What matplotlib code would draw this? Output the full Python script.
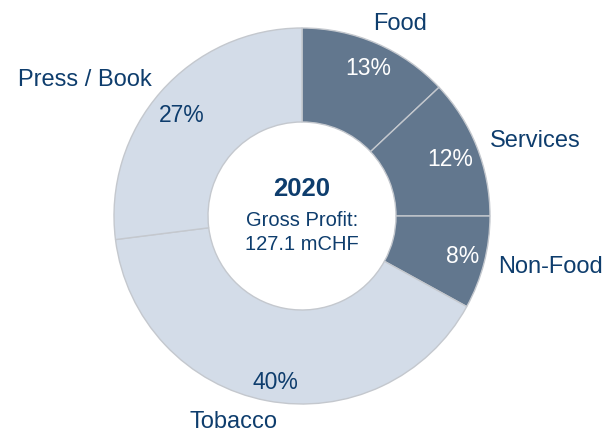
import matplotlib
matplotlib.use("Agg")
import matplotlib.pyplot as plt

# data
categories = ["Food", "Services", "Non-Food", "Tobacco", "Press / Book"]
shares = [13, 12, 8, 40, 27]
year = "2020"
subtitle = ["Gross Profit:", "127.1 mCHF"]

DARK = "#62778E"
LIGHT = "#D3DCE8"
NAVY = "#0E3D6D"
EDGE = "#C4C8CE"

colors = [DARK, DARK, DARK, LIGHT, LIGHT]
pct_colors = ["white", "white", "white", NAVY, NAVY]

# label placement (x, baseline y, ha) in figure pixels, y up
label_pos = [(373, 402, "left"), (490, 285, "left"), (498, 159, "left"),
             (190, 4, "left"), (152, 346, "right")]
pct_pos = [(368, 357), (450, 266), (463, 169), (275.5, 43), (181.5, 310)]

plt.rcParams["font.family"] = ["Liberation Sans", "DejaVu Sans"]

fig = plt.figure(figsize=(6.08, 4.32), dpi=100)
ax = fig.add_axes([0, 0, 1, 1])

cx, cy, r = 302, 216, 188
wedges, texts, autotexts = ax.pie(
    shares, labels=categories, colors=colors, startangle=90, counterclock=False,
    center=(cx, cy), radius=r, autopct="%d%%", frame=True,
    wedgeprops=dict(width=r * 0.5, edgecolor=EDGE, linewidth=1),
    textprops=dict(fontsize=17, color=NAVY),
)
for t, (x, y, ha) in zip(texts, label_pos):
    t.set_position((x, y))
    t.set_ha(ha)
    t.set_va("baseline")
for t, (x, y), c in zip(autotexts, pct_pos, pct_colors):
    t.set_position((x, y))
    t.set_ha("center")
    t.set_va("baseline")
    t.set_color(c)
    t.set_fontsize(16.5)

ax.set_xlim(0, 608)
ax.set_ylim(0, 432)
ax.set_aspect("equal")
ax.axis("off")

ax.text(cx, 236, year, ha="center", va="baseline", fontsize=18.5,
        fontweight="bold", color=NAVY)
ax.text(cx, 206, subtitle[0], ha="center", va="baseline", fontsize=14.5, color=NAVY)
ax.text(cx, 182, subtitle[1], ha="center", va="baseline", fontsize=14.5, color=NAVY)

fig.savefig("out.png", dpi=100)
